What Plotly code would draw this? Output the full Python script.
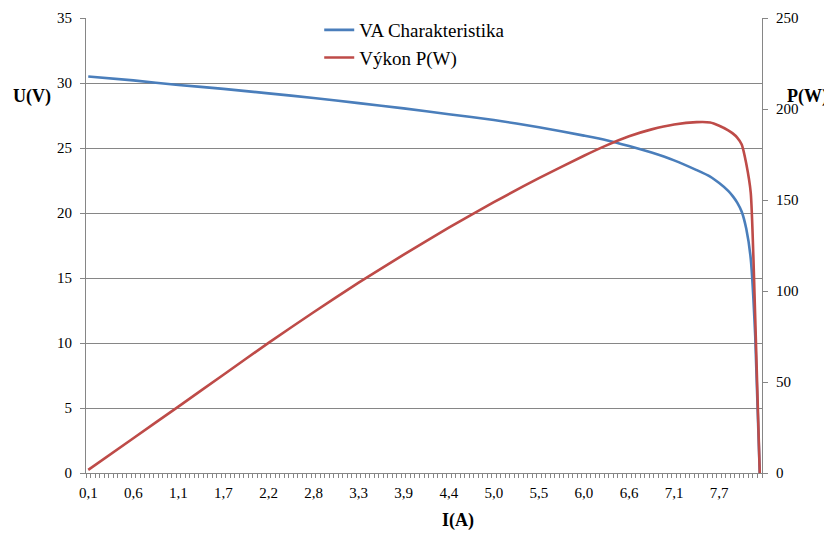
import plotly.graph_objects as go

# Category axis: 150 categories (current I), labels every 10th category
n_categories = 150
tick_labels = ["0,1", "0,6", "1,1", "1,7", "2,2", "2,8", "3,3", "3,9",
               "4,4", "5,0", "5,5", "6,0", "6,6", "7,1", "7,7"]
tick_positions = [0, 10, 20, 30, 40, 50, 60, 70, 80, 90, 100, 110, 120, 130, 140]

cat_idx = [0, 10, 20, 30, 40, 50, 60, 70, 80, 90, 100, 110, 115, 120, 125, 130,
           135, 138, 140, 142, 143, 144, 145, 146, 147, 148, 149]
u_values = [30.5, 30.2, 29.85, 29.55, 29.2, 28.85, 28.45, 28.05, 27.6, 27.15,
            26.6, 25.95, 25.6, 25.15, 24.65, 24.05, 23.3, 22.8, 22.3, 21.7, 21.3,
            20.8, 20.1, 18.8, 16.5, 10.5, 0.0]
p_values = [1.7, 19.1, 36.5, 54.0, 71.5, 88.3, 104.6, 120.0, 134.8, 148.8,
            162.0, 174.3, 180.0, 185.0, 188.8, 191.5, 192.8, 192.6, 190.8, 188.3, 186.6,
            184.3, 180.5, 170.0, 154.0, 85.0, 0.0]

series_names = ["VA Charakteristika", "Výkon P(W)"]
colors = ["#4A7EBB", "#BE4B48"]
grid = "#868686"
font_family = "Liberation Serif"

plot_h = 462           # paper area height (px); axes occupy the lower 455 px
dom_top = 455 / plot_h

fig = go.Figure()
fig.add_trace(go.Scatter(x=cat_idx, y=u_values, mode="lines", name=series_names[0],
                         line=dict(color=colors[0], width=2.6, shape="spline",
                                   smoothing=0.6), yaxis="y"))
fig.add_trace(go.Scatter(x=cat_idx, y=p_values, mode="lines", name=series_names[1],
                         line=dict(color=colors[1], width=2.6, shape="spline",
                                   smoothing=0.6), yaxis="y2"))

fig.update_layout(
    width=824, height=525,
    margin=dict(l=78, r=70, t=3, b=60, autoexpand=False),
    paper_bgcolor="white", plot_bgcolor="white",
    font=dict(family=font_family, size=15, color="black"),
    showlegend=True,
    legend=dict(x=0.345, y=1.0, xanchor="left", yanchor="top",
                font=dict(family=font_family, size=19, color="black"),
                bgcolor="rgba(255,255,255,0)", tracegroupgap=0, itemwidth=30),
    xaxis=dict(range=[-0.5, n_categories - 0.5], showgrid=False, zeroline=False,
               automargin=False,
               showline=True, linecolor=grid, linewidth=1,
               tickmode="array", tickvals=tick_positions, ticktext=tick_labels,
               ticks="outside", ticklen=6, tickcolor="rgba(0,0,0,0)",
               tickfont=dict(size=15),
               minor=dict(tickmode="linear", tick0=-0.5, dtick=1, ticks="outside",
                          ticklen=4, tickcolor=grid, showgrid=False)),
    yaxis=dict(range=[0, 35], dtick=5, domain=[0, dom_top], automargin=False,
               showgrid=True, gridcolor=grid, gridwidth=1,
               zeroline=False, showline=True, linecolor=grid, linewidth=1,
               ticks="outside", ticklen=5, tickcolor=grid, tickfont=dict(size=15),
               ticklabelstandoff=5),
    yaxis2=dict(range=[0, 250], dtick=50, overlaying="y", side="right",
                domain=[0, dom_top], automargin=False,
                showgrid=False, zeroline=False, showline=True, linecolor=grid,
                linewidth=1, ticks="outside", ticklen=5, tickcolor=grid,
                tickfont=dict(size=15), ticklabelstandoff=5),
    annotations=[
        dict(text="<b>U(V)</b>", xref="paper", yref="paper", x=-0.08, y=0.816,
             xanchor="center", yanchor="middle", showarrow=False,
             font=dict(size=18, family=font_family)),
        dict(text="<b>P(W)</b>", xref="paper", yref="paper", x=1.068, y=0.816,
             xanchor="center", yanchor="middle", showarrow=False,
             font=dict(size=18, family=font_family)),
        dict(text="<b>I(A)</b>", xref="paper", yref="paper", x=0.55, y=-0.102,
             xanchor="center", yanchor="middle", showarrow=False,
             font=dict(size=18, family=font_family)),
    ],
)

fig.write_html("out.html")
